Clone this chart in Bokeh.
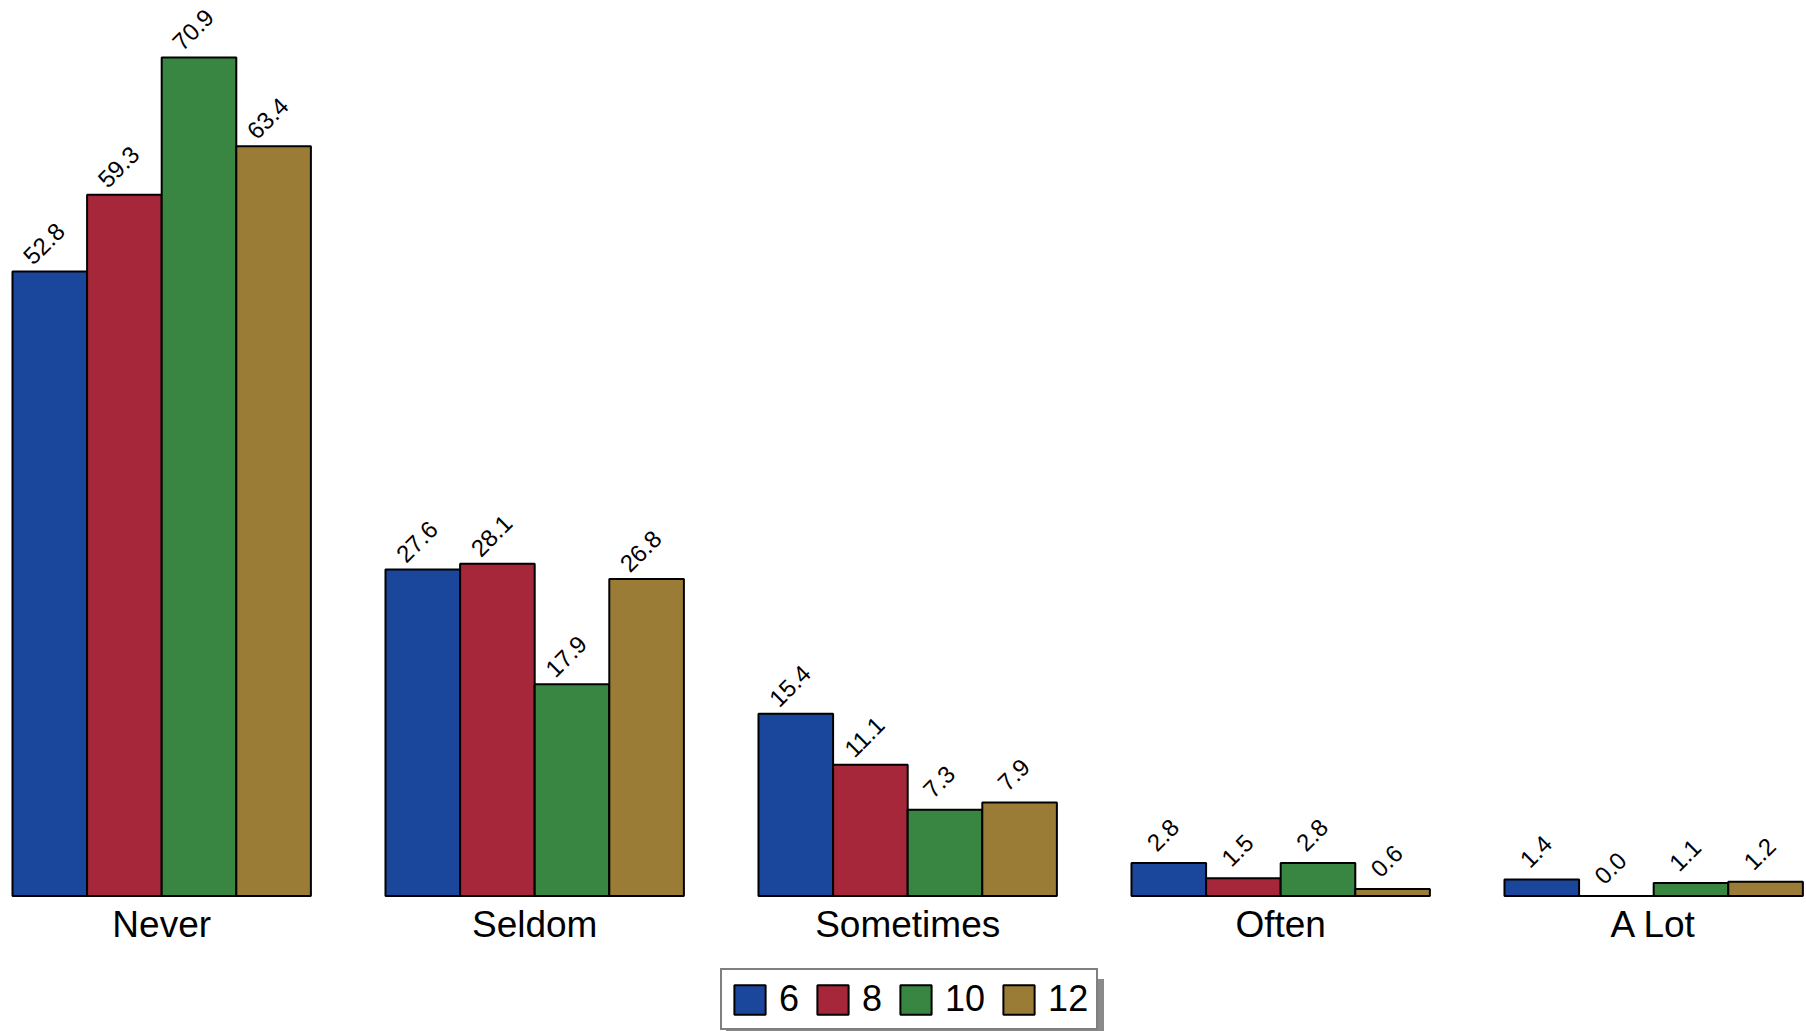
import math
from bokeh.plotting import figure
from bokeh.models import Range1d, FixedTicker, Legend, LegendItem
from bokeh.core.properties import value
from bokeh.embed import file_html
from bokeh.resources import INLINE

# ---- data ----
categories = ["Never", "Seldom", "Sometimes", "Often", "A Lot"]
series_names = ["6", "8", "10", "12"]
grade6 = [52.8, 27.6, 15.4, 2.8, 1.4]
grade8 = [59.3, 28.1, 11.1, 1.5, 0.0]
grade10 = [70.9, 17.9, 7.3, 2.8, 1.1]
grade12 = [63.4, 26.8, 7.9, 0.6, 1.2]
series_values = [grade6, grade8, grade10, grade12]
colors = ["#1a479b", "#a6263a", "#388642", "#9a7c37"]

FONT = "Liberation Sans"

p = figure(
    width=1806, height=1031,
    min_border_left=0, min_border_right=0, min_border_top=0, min_border_bottom=0,
    x_range=Range1d(-0.43217, 4.4097), y_range=Range1d(-11.458, 75.72),
    output_backend="svg", toolbar_location=None, y_axis_location=None,
)
p.outline_line_color = None
p.xgrid.visible = False
p.ygrid.visible = False
p.background_fill_color = "white"
p.border_fill_color = "white"

xa = p.xaxis[0]
xa.fixed_location = 0
xa.ticker = FixedTicker(ticks=list(range(len(categories))))
xa.major_label_overrides = {i: c for i, c in enumerate(categories)}
xa.axis_line_color = None
xa.major_tick_line_color = None
xa.minor_tick_line_color = None
xa.major_tick_out = 0
xa.major_tick_in = 0
xa.major_label_standoff = 8
xa.major_label_text_font = FONT
xa.major_label_text_font_size = "37px"
xa.major_label_text_color = "black"

bar_w = 0.2
renderers = []
dummies = []
for j, (vals, col) in enumerate(zip(series_values, colors)):
    off = -0.3 + bar_w * j
    xs = [i + off for i in range(len(categories))]
    r = p.vbar(x=xs, top=vals, width=bar_w, bottom=0,
               fill_color=col, line_color="black", line_width=2)
    renderers.append(r)
    p.text(x=xs, y=vals, text=[f"{v:.1f}" for v in vals],
           angle=math.pi / 4, text_align="center", text_baseline="middle",
           x_offset=-6, y_offset=-28,
           text_font=value(FONT), text_font_size="24px", text_color="black")
    d = p.vbar(x=[], top=[], width=bar_w, fill_alpha=0, line_alpha=0)
    dummies.append(d)

common = dict(orientation="horizontal", glyph_width=39, glyph_height=37,
              label_standoff=10, spacing=14, padding=8, margin=0,
              label_text_font=FONT, label_text_font_size="36px",
              border_line_width=2)

# drop shadow behind the legend (same size, labels left empty)
shadow = Legend(items=[LegendItem(label="", renderers=[d]) for d in dummies],
                location=(726, -5), background_fill_color="#8a8a8a", background_fill_alpha=1,
                border_line_color="#8a8a8a", label_width=30, **common)
p.add_layout(shadow)

legend = Legend(items=[LegendItem(label=n, renderers=[r]) for n, r in zip(series_names, renderers)],
                location=(720, 1), background_fill_color="white", background_fill_alpha=1,
                border_line_color="black", label_text_color="black", **common)
p.add_layout(legend)

open("out.html", "w").write(file_html(p, INLINE))
